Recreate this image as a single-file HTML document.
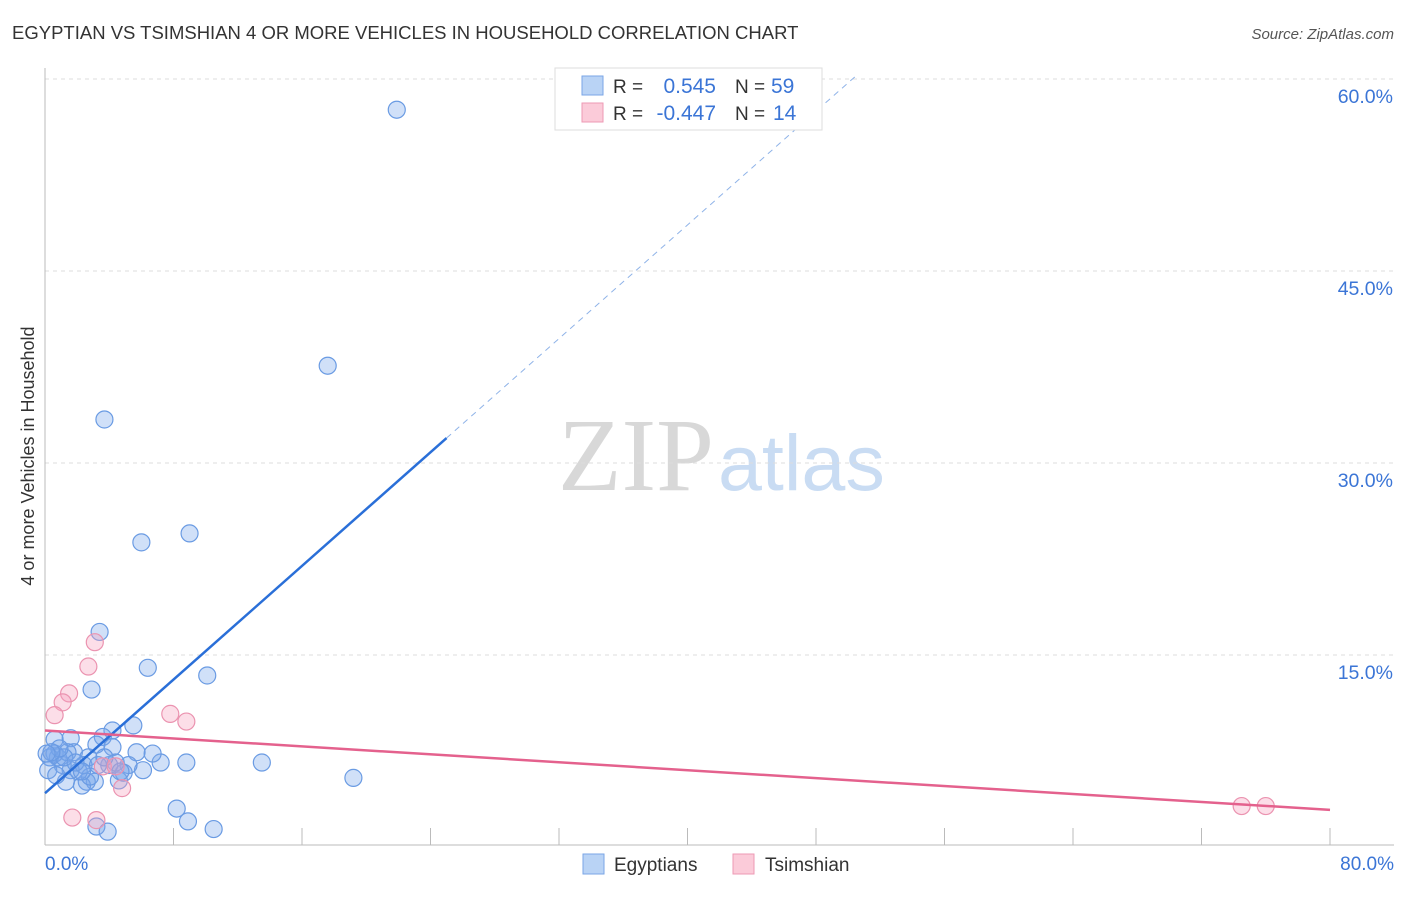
<!DOCTYPE html>
<html><head><meta charset="utf-8"><style>
body{margin:0;background:#fff;font-family:"Liberation Sans",sans-serif}
svg text{font-family:"Liberation Sans",sans-serif}
</style></head><body>
<svg id="c" width="1406" height="892">
<text x="12" y="39" font-size="18.5" fill="#333">EGYPTIAN VS TSIMSHIAN 4 OR MORE VEHICLES IN HOUSEHOLD CORRELATION CHART</text>
<text x="1394" y="39" font-size="15" fill="#555" font-style="italic" text-anchor="end">Source: ZipAtlas.com</text>
<text x="714" y="490" font-size="104" fill="#d8d8d8" text-anchor="end" style="font-family:'Liberation Serif',serif">ZIP</text>
<text x="718" y="490" font-size="79" fill="#c9dcf3">atlas</text>
<text transform="translate(34,456) rotate(-90)" font-size="18" fill="#333" text-anchor="middle">4 or more Vehicles in Household</text>
<g id="grid"></g><g id="marks"></g>
<g>
<rect x="555" y="68" width="267" height="62" fill="#fff" stroke="#ddd"/>
<rect x="582" y="76" width="21" height="19" fill="#b9d3f5" stroke="#7aa6e6"/>
<rect x="582" y="103" width="21" height="19" fill="#fbcbd9" stroke="#ee9ab4"/>
<text x="613" y="93" font-size="19" fill="#333">R = </text><text x="716" y="93" font-size="21" fill="#3b75d6" text-anchor="end">0.545</text>
<text x="735" y="93" font-size="19" fill="#333">N = </text><text x="771" y="93" font-size="21" fill="#3b75d6">59</text>
<text x="613" y="120" font-size="19" fill="#333">R = </text><text x="716" y="120" font-size="21" fill="#3b75d6" text-anchor="end">-0.447</text>
<text x="735" y="120" font-size="19" fill="#333">N = </text><text x="773" y="120" font-size="21" fill="#3b75d6">14</text>
</g>
<g>
<rect x="583" y="854" width="21" height="20" fill="#b9d3f5" stroke="#7aa6e6"/>
<text x="614" y="871" font-size="19" fill="#333">Egyptians</text>
<rect x="733" y="854" width="21" height="20" fill="#fbcbd9" stroke="#ee9ab4"/>
<text x="765" y="871" font-size="19" fill="#333">Tsimshian</text>
</g>
</svg>
<script>
const yTicks=[15,30,45,60];
const yTickLabels=["15.0%","30.0%","45.0%","60.0%"];
const xTickLabels=["0.0%","80.0%"];
const blueX=[21.9,17.6,3.7,6.0,9.0,3.4,6.4,10.1,2.9,19.2,13.5,8.8,7.2,6.1,6.7,5.7,5.5,4.2,3.6,4.2,3.2,5.2,4.9,4.6,3.1,2.6,2.3,2.8,2.1,1.6,1.1,0.8,0.6,0.3,0.2,0.6,1.6,1.8,1.4,2.7,1.2,2.4,4.0,3.3,4.4,1.3,0.7,8.2,8.9,10.5,3.2,3.9,0.9,0.4,0.1,1.9,3.7,2.3,4.7];
const blueY=[57.6,37.6,33.4,23.8,24.5,16.8,14.0,13.4,12.3,5.4,6.6,6.6,6.6,6.0,7.3,7.4,9.5,9.1,8.6,7.8,8.0,6.4,5.8,5.2,5.1,5.1,4.8,5.5,5.9,6.0,6.4,7.0,7.3,7.0,6.0,8.4,8.5,7.4,7.4,7.0,7.0,6.4,6.4,6.4,6.6,5.1,5.6,3.0,2.0,1.4,1.6,1.2,7.7,7.4,7.3,6.6,7.0,5.9,5.9];
const pinkX=[3.1,2.7,1.5,1.1,0.6,7.8,8.8,3.6,4.4,4.8,1.7,3.2,74.5,76.0];
const pinkY=[16.0,14.1,12.0,11.3,10.3,10.4,9.8,6.3,6.3,4.6,2.3,2.1,3.2,3.2];
const blueTrend=[4.2,1.11];
const pinkTrend=[9.1,-0.0775];
const X=v=>45+v/80*1285, Y=v=>847-v/60*768;
const NS="http://www.w3.org/2000/svg";
const grid=document.getElementById('grid'), marks=document.getElementById('marks');
function mk(p,tag,a){const e=document.createElementNS(NS,tag);for(const k in a)e.setAttribute(k,a[k]);p.appendChild(e);return e;}
yTicks.forEach((t,i)=>{
 const l=mk(grid,'line',{x1:45,x2:1394,y1:Y(t),y2:Y(t),stroke:'#ddd','stroke-dasharray':'4,4'});
 
 
 const tx=mk(grid,'text',{x:1393,y:Y(t)+24,'font-size':19.5,fill:'#3b75d6','text-anchor':'end'});tx.textContent=yTickLabels[i];
 
 
});
const ax=mk(grid,'line',{x1:45,x2:45,y1:68,y2:845,stroke:'#bbb'});


const bx=mk(grid,'line',{x1:45,x2:1394,y1:845,y2:845,stroke:'#bbb'});


for(let i=1;i<=10;i++){const t=mk(grid,'line',{x1:X(i*8),x2:X(i*8),y1:828,y2:845,stroke:'#bbb'});
 
 }
[[0,45,'start'],[80,1394,'end']].forEach((d,i)=>{const t=mk(grid,'text',{x:d[1],y:870,'font-size':19,fill:'#3b75d6','text-anchor':d[2]});t.textContent=xTickLabels[i];
 
 });
function dots(xs,ys,fill,stroke,name){xs.forEach((x,i)=>{const c=mk(marks,'circle',{cx:X(x),cy:Y(ys[i]),r:8.5,fill:fill,stroke:stroke,'stroke-width':1.2});
 
 });}
dots(blueX,blueY,'rgba(120,165,235,0.35)','#6a9be3','egyptian-point');
dots(pinkX,pinkY,'rgba(245,160,190,0.35)','#eb93b0','tsimshian-point');
const xs=25, xe=(60.2-blueTrend[0])/blueTrend[1];
const b1=mk(marks,'line',{x1:X(0),y1:Y(blueTrend[0]),x2:X(xs),y2:Y(blueTrend[0]+blueTrend[1]*xs),stroke:'#2a6fd8','stroke-width':2.5});


const b2=mk(marks,'line',{x1:X(xs),y1:Y(blueTrend[0]+blueTrend[1]*xs),x2:X(xe),y2:Y(blueTrend[0]+blueTrend[1]*xe),stroke:'#8fb3e8','stroke-width':1,'stroke-dasharray':'6,5'});


const p1=mk(marks,'line',{x1:X(0),y1:Y(pinkTrend[0]),x2:X(80),y2:Y(pinkTrend[0]+pinkTrend[1]*80),stroke:'#e4618d','stroke-width':2.5});


</script>
</body></html>
